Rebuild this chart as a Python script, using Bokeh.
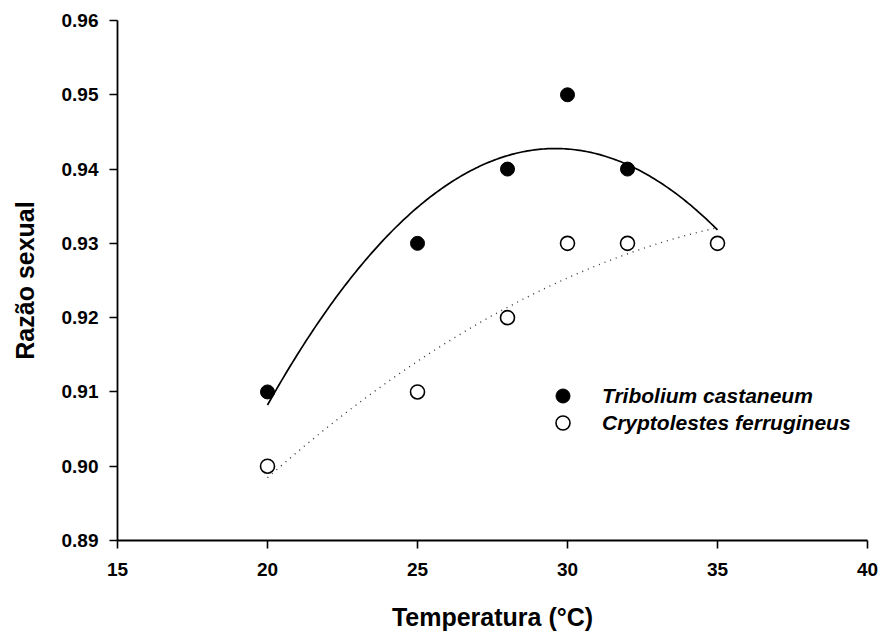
import numpy as np
from bokeh.plotting import figure
from bokeh.models import Range1d, FixedTicker, Legend, LegendItem, CustomJSTickFormatter
from bokeh.embed import file_html
from bokeh.resources import INLINE

# Data
temperature = [20, 25, 28, 30, 32, 35]
tribolium = [0.91, 0.93, 0.94, 0.95, 0.94, 0.93]
cryptolestes = [0.90, 0.91, 0.92, 0.93, 0.93, 0.93]
x_ticks = [15, 20, 25, 30, 35, 40]
y_ticks = [0.89, 0.90, 0.91, 0.92, 0.93, 0.94, 0.95, 0.96]

# Quadratic regression curves fitted to the data
xs_fit = np.linspace(min(temperature), max(temperature), 200)
fit_t = np.polyval(np.polyfit(temperature, tribolium, 2), xs_fit)
fit_c = np.polyval(np.polyfit(temperature, cryptolestes, 2), xs_fit)

FONT = "Liberation Sans"

p = figure(width=888, height=634, output_backend="svg", toolbar_location=None,
           x_range=Range1d(15, 40), y_range=Range1d(0.89, 0.96),
           min_border_left=117, min_border_right=21, min_border_top=20, min_border_bottom=94)
p.outline_line_color = None
p.grid.visible = False
p.background_fill_color = "white"
p.border_fill_color = "white"

p.line(xs_fit, fit_t, line_color="black", line_width=1.7)
p.line(xs_fit, fit_c, line_color="#333333", line_width=1.4, line_dash="1 5")

r_c = p.scatter(temperature, cryptolestes, size=14, fill_color="white", line_color="black", line_width=1.6)
r_t = p.scatter(temperature[:-1], tribolium[:-1], size=14, fill_color="black", line_color="black")

for ax in (p.xaxis[0], p.yaxis[0]):
    ax.axis_line_width = 1.8
    ax.axis_line_color = "black"
    ax.major_tick_line_width = 1.6
    ax.major_tick_in = 0
    ax.major_tick_out = 8
    ax.minor_tick_line_color = None
    ax.major_label_text_font = FONT
    ax.major_label_text_font_style = "bold"
    ax.major_label_text_font_size = "19px"
    ax.major_label_text_color = "black"
    ax.axis_label_text_font = FONT
    ax.axis_label_text_font_style = "bold"
    ax.axis_label_text_font_size = "25px"
    ax.axis_label_text_color = "black"

p.xaxis.ticker = FixedTicker(ticks=x_ticks)
p.yaxis.ticker = FixedTicker(ticks=y_ticks)
p.yaxis.formatter = CustomJSTickFormatter(code="return tick.toFixed(2);")
p.xaxis.major_label_standoff = 14
p.yaxis.major_label_standoff = 11
p.xaxis.axis_label = "Temperatura (°C)"
p.yaxis.axis_label = "Razão sexual"
p.xaxis.axis_label_standoff = 24
p.yaxis.axis_label_standoff = 20


def make_legend(label, renderer, y):
    lg = Legend(items=[LegendItem(label=label, renderers=[renderer])], location=(428, y))
    lg.background_fill_alpha = 0
    lg.border_line_color = None
    lg.padding = 0
    lg.margin = 0
    lg.spacing = 0
    lg.glyph_width = 35
    lg.glyph_height = 35
    lg.label_height = 35
    lg.label_standoff = 22
    lg.label_text_font = FONT
    lg.label_text_font_style = "bold italic"
    lg.label_text_font_size = "21px"
    lg.label_text_color = "black"
    return lg


p.add_layout(make_legend("Tribolium castaneum", r_t, 127), "center")
p.add_layout(make_legend("Cryptolestes ferrugineus", r_c, 100), "center")

open("out.html", "w").write(file_html(p, INLINE))
